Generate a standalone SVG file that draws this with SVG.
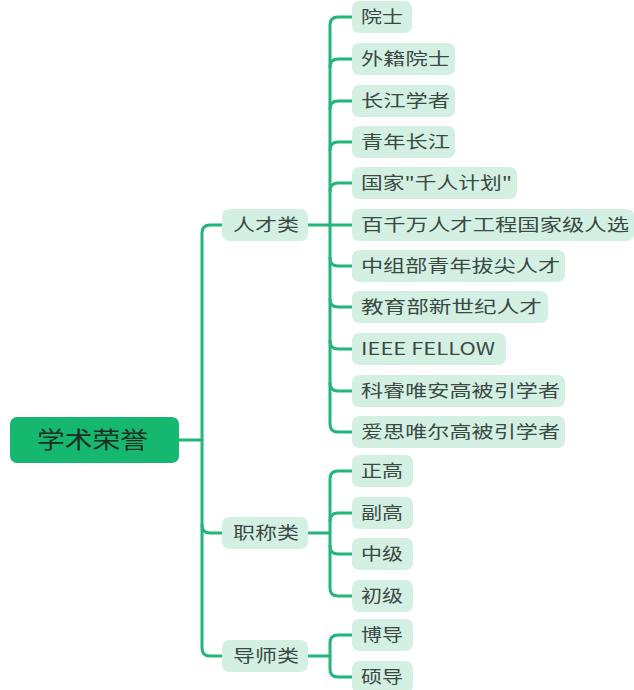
<svg xmlns="http://www.w3.org/2000/svg" width="634" height="690" viewBox="0 0 634 690">
<style>
.bg{fill:#ffffff}
.conn path{fill:none;stroke:#22b67b;stroke-width:3;stroke-linecap:round;stroke-linejoin:round}
.box{fill:#d4f0e3}
.t{font-family:"Noto Sans CJK SC","Noto Sans",sans-serif;font-size:17px;fill:#3b4943}
.root rect{fill:#16b86f}
.root text{font-family:"Noto Sans CJK SC","Noto Sans",sans-serif;font-size:23px;fill:#1a2e24}
</style>
<rect class="bg" x="0" y="0" width="634" height="690"/>
<g class="conn" id="connectors">
<path d="M179 440 H202"/>
<path d="M222 225 H210 Q202 225 202 233 V648 Q202 656 210 656 H222"/>
<path d="M202 525 Q202 533 210 533 H222"/>
<path d="M308 225 H330"/>
<path d="M352 17 H338 Q330 17 330 25 V424 Q330 432 338 432 H352"/>
<path d="M330 67 Q330 59 338 59 H352"/>
<path d="M330 109 Q330 101 338 101 H352"/>
<path d="M330 150 Q330 142 338 142 H352"/>
<path d="M330 191 Q330 183 338 183 H352"/>
<path d="M330 225 H352"/>
<path d="M330 258 Q330 266 338 266 H352"/>
<path d="M330 299 Q330 307 338 307 H352"/>
<path d="M330 341 Q330 349 338 349 H352"/>
<path d="M330 383 Q330 391 338 391 H352"/>
<path d="M308 533 H330"/>
<path d="M352 471 H338 Q330 471 330 479 V588 Q330 596 338 596 H352"/>
<path d="M330 521 Q330 513 338 513 H352"/>
<path d="M330 546 Q330 554 338 554 H352"/>
<path d="M308 656 H330"/>
<path d="M352 635 H338 Q330 635 330 643 V669 Q330 677 338 677 H352"/>
</g>
<g id="root" class="root"><rect x="10" y="417" width="169" height="46" rx="7"/><text x="37" y="448" textLength="111" lengthAdjust="spacingAndGlyphs">学术荣誉</text></g>
<g id="rencai"><rect class="box" x="222" y="209" width="86" height="32" rx="7"/><text class="t" x="233" y="231" textLength="66" lengthAdjust="spacingAndGlyphs">人才类</text></g>
<g id="zhicheng"><rect class="box" x="222" y="517" width="86" height="32" rx="7"/><text class="t" x="233" y="539" textLength="66" lengthAdjust="spacingAndGlyphs">职称类</text></g>
<g id="daoshi"><rect class="box" x="222" y="640" width="86" height="32" rx="7"/><text class="t" x="233" y="662" textLength="66" lengthAdjust="spacingAndGlyphs">导师类</text></g>
<g id="n1"><rect class="box" x="352" y="1" width="60" height="32" rx="7"/><text class="t" x="361" y="23" textLength="42" lengthAdjust="spacingAndGlyphs">院士</text></g>
<g id="n2"><rect class="box" x="352" y="43" width="103" height="32" rx="7"/><text class="t" x="361" y="65" textLength="89" lengthAdjust="spacingAndGlyphs">外籍院士</text></g>
<g id="n3"><rect class="box" x="352" y="85" width="103" height="32" rx="7"/><text class="t" x="361" y="107" textLength="89" lengthAdjust="spacingAndGlyphs">长江学者</text></g>
<g id="n4"><rect class="box" x="352" y="126" width="103" height="32" rx="7"/><text class="t" x="361" y="148" textLength="89" lengthAdjust="spacingAndGlyphs">青年长江</text></g>
<g id="n5"><rect class="box" x="352" y="167" width="165" height="32" rx="7"/><text class="t" x="361" y="189" textLength="151" lengthAdjust="spacingAndGlyphs">国家"千人计划"</text></g>
<g id="n6"><rect class="box" x="352" y="209" width="282" height="32" rx="7"/><text class="t" x="361" y="231" textLength="268" lengthAdjust="spacingAndGlyphs">百千万人才工程国家级人选</text></g>
<g id="n7"><rect class="box" x="352" y="250" width="213" height="32" rx="7"/><text class="t" x="361" y="272" textLength="199" lengthAdjust="spacingAndGlyphs">中组部青年拔尖人才</text></g>
<g id="n8"><rect class="box" x="352" y="291" width="196" height="32" rx="7"/><text class="t" x="361" y="313" textLength="181" lengthAdjust="spacingAndGlyphs">教育部新世纪人才</text></g>
<g id="n9"><rect class="box" x="352" y="333" width="154" height="32" rx="7"/><text class="t" x="361" y="355" textLength="134" lengthAdjust="spacingAndGlyphs">IEEE FELLOW</text></g>
<g id="n10"><rect class="box" x="352" y="375" width="213" height="32" rx="7"/><text class="t" x="361" y="397" textLength="199" lengthAdjust="spacingAndGlyphs">科睿唯安高被引学者</text></g>
<g id="n11"><rect class="box" x="352" y="416" width="213" height="32" rx="7"/><text class="t" x="361" y="438" textLength="199" lengthAdjust="spacingAndGlyphs">爱思唯尔高被引学者</text></g>
<g id="z1"><rect class="box" x="352" y="455" width="61" height="32" rx="7"/><text class="t" x="361" y="477" textLength="42" lengthAdjust="spacingAndGlyphs">正高</text></g>
<g id="z2"><rect class="box" x="352" y="497" width="61" height="32" rx="7"/><text class="t" x="361" y="519" textLength="42" lengthAdjust="spacingAndGlyphs">副高</text></g>
<g id="z3"><rect class="box" x="352" y="538" width="61" height="32" rx="7"/><text class="t" x="361" y="560" textLength="42" lengthAdjust="spacingAndGlyphs">中级</text></g>
<g id="z4"><rect class="box" x="352" y="580" width="61" height="32" rx="7"/><text class="t" x="361" y="602" textLength="42" lengthAdjust="spacingAndGlyphs">初级</text></g>
<g id="d1"><rect class="box" x="352" y="619" width="61" height="32" rx="7"/><text class="t" x="361" y="641" textLength="42" lengthAdjust="spacingAndGlyphs">博导</text></g>
<g id="d2"><rect class="box" x="352" y="661" width="61" height="32" rx="7"/><text class="t" x="361" y="683" textLength="42" lengthAdjust="spacingAndGlyphs">硕导</text></g>
</svg>
